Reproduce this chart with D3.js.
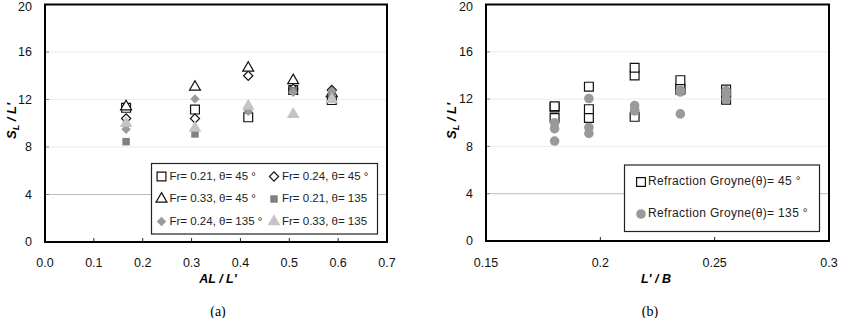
<!DOCTYPE html>
<html>
<head>
<meta charset="utf-8">
<script src="https://cdn.jsdelivr.net/npm/d3@7"></script>
<style>
  body { margin: 0; background: #fff; }
  svg { display: block; }
  text { font-family: "Liberation Sans", Arial, sans-serif; }
</style>
</head>
<body>
<svg id="chart" width="842" height="318"></svg>
<script>
// x positions of the five test cases in each panel
const AL = [0.166, 0.307, 0.416, 0.508, 0.587];
const LB = [0.18, 0.195, 0.215, 0.235, 0.255];

// S_L / L' readings
const fr21_45 = [11.3, 11.15, 10.5, 12.8, 11.95];
const fr24_45 = [10.4, 10.4, 14.0, 12.9, 12.8];
const fr33_45 = [11.4, 13.05, 14.65, 13.6, 12.5];
const fr21_135 = [8.45, 9.1, 11.1, 12.75, 12.4];
const fr24_135 = [9.5, 12.05, 11.0, 12.6, 12.7];
const fr33_135 = [10.0, 9.6, 11.45, 10.75, 12.0];

const yTicks = [0, 4, 8, 12, 16, 20];
const xTicksA = [0, 0.1, 0.2, 0.3, 0.4, 0.5, 0.6, 0.7];
const xTicksB = [0.15, 0.2, 0.25, 0.3];

const legendA = [
  "Fr= 0.21, θ= 45 °", "Fr= 0.24, θ= 45 °",
  "Fr= 0.33, θ= 45 °", "Fr= 0.21, θ= 135",
  "Fr= 0.24, θ= 135 °", "Fr= 0.33, θ= 135"
];
const legendB = ["Refraction Groyne(θ)= 45 °", "Refraction Groyne(θ)= 135 °"];

const svg = d3.select("#chart");

function panel(opts) {
  const x = d3.scaleLinear().domain(opts.xDomain).range(opts.xRange);
  const y = d3.scaleLinear().domain([0, 20]).range(opts.yRange);
  const g = svg.append("g");
  const [x0, x1] = opts.xRange;
  const [y0, y1] = opts.yRange;

  // gridlines
  g.append("g").selectAll("line")
    .data(yTicks.filter(d => d > 0 && d < 20))
    .join("line")
    .attr("x1", x0).attr("x2", x1)
    .attr("y1", d => y(d)).attr("y2", d => y(d))
    .attr("stroke", d => d === 4 ? "#bdbdbd" : "#ececec")
    .attr("stroke-width", 1);

  // inner ticks on y axis
  g.append("g").selectAll("line")
    .data(yTicks.filter(d => d > 0 && d < 20))
    .join("line")
    .attr("x1", x0).attr("x2", x0 + 4)
    .attr("y1", d => y(d)).attr("y2", d => y(d))
    .attr("stroke", "#888");

  // inner ticks on x axis
  g.append("g").selectAll("line")
    .data(opts.xTicks.slice(1, -1))
    .join("line")
    .attr("x1", d => x(d)).attr("x2", d => x(d))
    .attr("y1", y0).attr("y2", y0 - 4)
    .attr("stroke", "#222");

  // y tick labels
  g.append("g").selectAll("text")
    .data(yTicks)
    .join("text")
    .attr("x", x0 - 13)
    .attr("y", d => Math.max(y(d), 7))
    .attr("dy", "0.35em")
    .attr("text-anchor", "end")
    .attr("font-size", 12.5)
    .attr("fill", "#111")
    .text(d => d);

  // x tick labels
  g.append("g").selectAll("text")
    .data(opts.xTicks)
    .join("text")
    .attr("x", d => x(d))
    .attr("y", 263)
    .attr("dy", "0.35em")
    .attr("text-anchor", "middle")
    .attr("font-size", 12.5)
    .attr("fill", "#111")
    .text(opts.xFormat);

  return { g, x, y };
}

function drawSeries(p, xs, ys, style) {
  const sym = d3.symbol().type(style.type).size(style.size);
  p.g.append("g").selectAll("path")
    .data(ys)
    .join("path")
    .attr("d", sym)
    .attr("transform", (d, i) =>
      `translate(${p.x(xs[i])},${p.y(d)})` + (style.rotate ? " rotate(45)" : ""))
    .attr("fill", style.fill)
    .attr("stroke", style.stroke || "none")
    .attr("stroke-width", 1.2);
}

function frame(p, opts) {
  const [x0, x1] = opts.xRange;
  const [y0, y1] = opts.yRange;
  p.g.append("rect")
    .attr("x", x0).attr("y", y1)
    .attr("width", x1 - x0).attr("height", y0 - y1)
    .attr("fill", "none")
    .attr("stroke", "#000")
    .attr("stroke-width", 2);
}

function yTitle(cx) {
  const t = svg.append("text")
    .attr("transform", `translate(${cx},121) rotate(-90)`)
    .attr("text-anchor", "middle")
    .attr("dy", "0.35em")
    .attr("font-size", 13)
    .attr("font-weight", "bold")
    .attr("font-style", "italic");
  t.append("tspan").text("S");
  t.append("tspan").attr("font-size", 9).attr("dy", 3).text("L");
  t.append("tspan").attr("dy", -3).text(" / L'");
}

function xTitle(cx, label) {
  svg.append("text")
    .attr("x", cx).attr("y", 279)
    .attr("dy", "0.35em")
    .attr("text-anchor", "middle")
    .attr("font-size", 12.5)
    .attr("font-weight", "bold")
    .attr("font-style", "italic")
    .text(label);
}

function caption(cx, label) {
  svg.append("text")
    .attr("x", cx).attr("y", 311)
    .attr("dy", "0.35em")
    .attr("text-anchor", "middle")
    .style("font-family", "'Liberation Serif', 'Times New Roman', serif")
    .attr("font-size", 14)
    .text(label);
}

const openSquare = { type: d3.symbolSquare, size: 78, fill: "#fff", stroke: "#111" };
const openDiamond = { type: d3.symbolSquare, size: 42, fill: "#fff", stroke: "#111", rotate: true };
const openTriangle = { type: d3.symbolTriangle, size: 52, fill: "#fff", stroke: "#111" };
const darkSquare = { type: d3.symbolSquare, size: 56, fill: "#808080" };
const grayDiamond = { type: d3.symbolSquare, size: 44, fill: "#9a9a9a", rotate: true };
const lightTriangle = { type: d3.symbolTriangle, size: 70, fill: "#c4c4c4" };
const grayCircle = { type: d3.symbolCircle, size: 72, fill: "#9a9a9a" };

// ---------- panel (a)
const optsA = {
  xDomain: [0, 0.7], xRange: [45, 387], yRange: [242, 4.5],
  xTicks: xTicksA, xFormat: d3.format(".1f")
};
const pA = panel(optsA);
const seriesA = [
  [fr21_45, openSquare], [fr24_45, openDiamond], [fr33_45, openTriangle],
  [fr21_135, darkSquare], [fr24_135, grayDiamond], [fr33_135, lightTriangle]
];
seriesA.forEach(([ys, st]) => drawSeries(pA, AL, ys, st));
frame(pA, optsA);

// legend (a)
const legA = svg.append("g");
legA.append("rect")
  .attr("x", 151.5).attr("y", 163.5).attr("width", 226).attr("height", 70.5)
  .attr("fill", "#fff").attr("stroke", "#222").attr("stroke-width", 1.2);
legendA.forEach((label, i) => {
  const col = i % 2, row = Math.floor(i / 2);
  const mx = col ? 274 : 161.5;
  const my = 175.5 + row * 22.5;
  const st = seriesA[i][1];
  const item = legA.append("g");
  item.append("path")
    .attr("d", d3.symbol().type(st.type).size(st.size)())
    .attr("transform", `translate(${mx},${my + 1})` + (st.rotate ? " rotate(45)" : ""))
    .attr("fill", st.fill).attr("stroke", st.stroke || "none").attr("stroke-width", 1.2);
  item.append("text")
    .attr("x", mx + 8).attr("y", my)
    .attr("dy", "0.35em")
    .attr("font-size", 11.5)
    .attr("fill", "#222")
    .text(label);
});

xTitle(218, "AL / L'");
yTitle(11);
caption(218, "(a)");

// ---------- panel (b)
const optsB = {
  xDomain: [0.15, 0.3], xRange: [486, 829], yRange: [241, 4.5],
  xTicks: xTicksB, xFormat: d => String(+d.toFixed(2))
};
const pB = panel(optsB);
[fr21_45, fr24_45, fr33_45].forEach(ys => drawSeries(pB, LB, ys, openSquare));
[fr21_135, fr24_135, fr33_135].forEach(ys => drawSeries(pB, LB, ys, grayCircle));
frame(pB, optsB);

const legB = svg.append("g");
legB.append("rect")
  .attr("x", 624.5).attr("y", 165).attr("width", 195).attr("height", 66.5)
  .attr("fill", "#fff").attr("stroke", "#222").attr("stroke-width", 1.2);
[openSquare, grayCircle].forEach((st, i) => {
  const mx = 641, my = 181 + i * 32;
  legB.append("path")
    .attr("d", d3.symbol().type(st.type).size(st.size)())
    .attr("transform", `translate(${mx},${my + 1})`)
    .attr("fill", st.fill).attr("stroke", st.stroke || "none").attr("stroke-width", 1.2);
  legB.append("text")
    .attr("x", mx + 7).attr("y", my)
    .attr("dy", "0.35em")
    .attr("font-size", 12)
    .attr("letter-spacing", 0.35)
    .attr("fill", "#222")
    .text(legendB[i]);
});

xTitle(656, "L' / B");
yTitle(451.5);
caption(650, "(b)");
</script>
</body>
</html>
